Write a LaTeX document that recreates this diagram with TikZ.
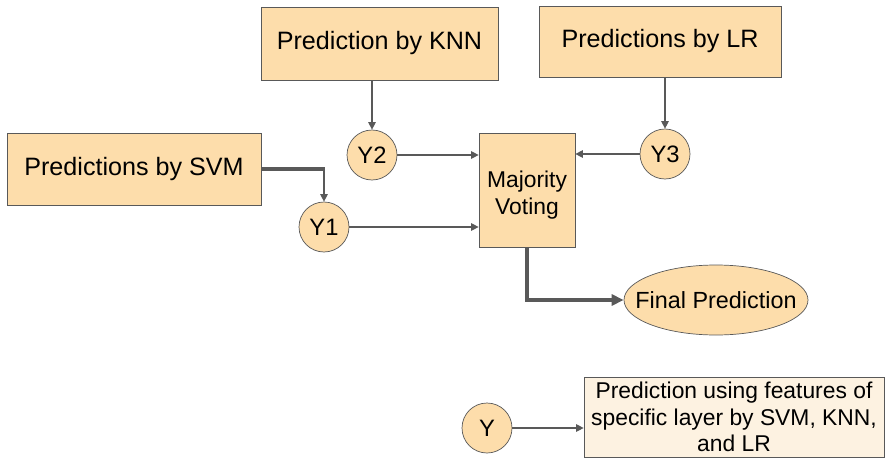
\documentclass[tikz,border=0pt]{standalone}
\usepackage{fontspec}
\setmainfont{Liberation Sans}
\usepackage{xcolor}
\usetikzlibrary{arrows.meta,calc,positioning,shapes.geometric}
\definecolor{boxfill}{HTML}{FDDDAB}
\definecolor{notefill}{HTML}{FDF2E1}
\definecolor{linegray}{HTML}{595959}
\begin{document}
\begin{tikzpicture}[
    predbox/.style={draw=linegray, fill=boxfill, thin, inner sep=0pt, align=center,
      font=\fontsize{14.3}{17}\selectfont},
    ybubble/.style={circle, draw=linegray, fill=boxfill, thin, minimum size=1cm, inner sep=0pt,
      font=\fontsize{13.5}{15}\selectfont},
    conn/.style={draw=linegray, line width=0.6pt, -{Triangle[length=1.5mm,width=1.5mm]}},
    thickline/.style={draw=linegray, line width=2pt}
  ]
  \useasboundingbox (0,0) rectangle (17.84,-9.18);
  % prediction boxes
  \node[predbox, minimum width=4.74cm, minimum height=1.46cm] (knn) at (7.59,-0.87) {Prediction by KNN};
  \node[predbox, minimum width=4.84cm, minimum height=1.42cm] (lr) at (13.2,-0.83) {Predictions by LR};
  \node[predbox, minimum width=5.08cm, minimum height=1.44cm] (svm) at (2.68,-3.38) {Predictions by SVM};
  % voting
  \node[predbox, minimum width=1.92cm, minimum height=2.28cm,
        font=\fontsize{13}{15.4}\selectfont] (vote) at (10.54,-3.8) {\rule{0pt}{1.2em}Majority\\Voting};
  \node[ellipse, draw=linegray, fill=boxfill, thin, minimum width=3.68cm, minimum height=1.4cm,
        inner xsep=-10pt, inner ysep=0pt, font=\fontsize{13.3}{15}\selectfont] (final) at (14.32,-6.0) {Final Prediction};
  % outputs
  \node[ybubble] (y2) at (7.44,-3.1) {Y2};
  \node[ybubble] (y3) at (13.3,-3.08) {Y3};
  \node[ybubble] (y1) at (6.48,-4.54) {Y1};
  % connections
  \coordinate (svmbend) at (svm.east -| y1);
  \draw[thickline] (svm.east) -- ([xshift=0.3pt]svmbend);
  \draw[conn] (svmbend) -- (y1);
  \draw[conn] (knn.south -| y2) -- (y2);
  \draw[conn] (lr.south -| y3) -- (y3);
  \draw[conn] (y2) -- (y2 -| vote.west);
  \draw[conn] (y3) -- (y3 -| vote.east);
  \draw[conn] (y1) -- (y1 -| vote.west);
  \draw[thickline, -{Triangle[length=2.4mm,width=2.2mm]}] (vote.south) |- (final.west);
  % legend
  \node[ybubble] (yy) at (9.74,-8.56) {Y};
  \node[draw=linegray, fill=notefill, thin, minimum width=6.0cm, minimum height=1.6cm, inner sep=0pt,
        align=center, font=\fontsize{13}{15.2}\selectfont] (note) at (14.68,-8.34)
        {Prediction using features of\\specific layer by SVM, KNN,\\and LR};
  \draw[conn] (yy) -- (yy -| note.west);
\end{tikzpicture}
\end{document}
